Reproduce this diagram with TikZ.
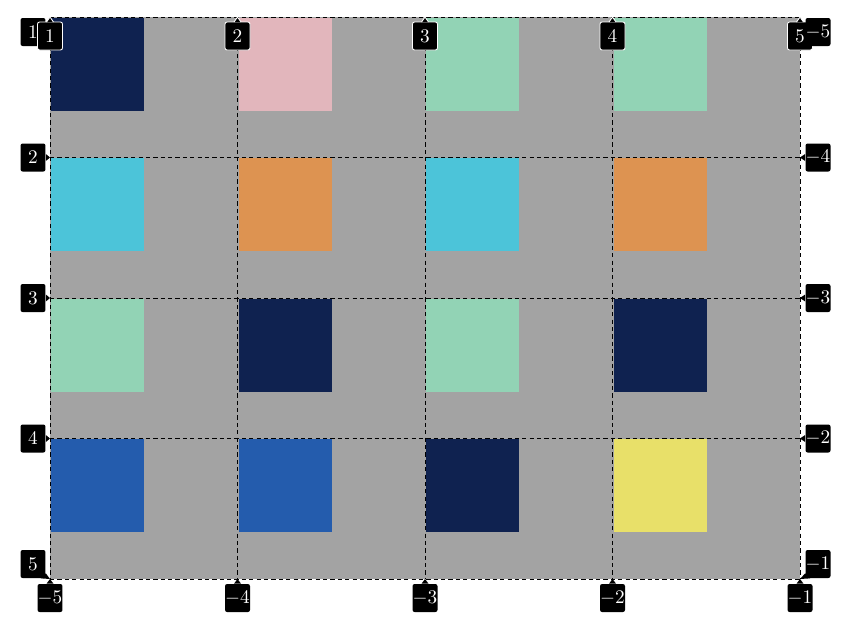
\documentclass[tikz,border=0pt]{standalone}
\usetikzlibrary{calc}
\definecolor{GridGrey}{HTML}{A3A3A3}
\definecolor{MyNavy}{HTML}{0F2250}
\definecolor{MyPink}{HTML}{E2B6BC}
\definecolor{MyMint}{HTML}{92D3B5}
\definecolor{MyCyan}{HTML}{4CC4D9}
\definecolor{MyOrange}{HTML}{DD9351}
\definecolor{MyBlue}{HTML}{245CAD}
\definecolor{MyYellow}{HTML}{E8E069}
\begin{document}
\begin{tikzpicture}[x=0.02cm, y=-0.02cm,
	gridline/.style={line width=0.55pt, dash pattern=on 2.4pt off 1.8pt},
	numtag/.style={fill=black, text=white, rounded corners=1.2pt, minimum width=0.5cm, minimum height=0.56cm, inner sep=0pt, font=\fontsize{10.5}{12}\selectfont},
	toptag/.style={numtag, draw=white, line width=0.5pt},
	tagtip/.style={fill=black}]
	\useasboundingbox (0,0) rectangle (865,616);
	\fill[GridGrey] (50,17) rectangle (800,579);
	
	% coloured items
	\foreach \c/\r/\col in {1/1/MyNavy, 2/1/MyPink, 3/1/MyMint, 4/1/MyMint,
		1/2/MyCyan, 2/2/MyOrange, 3/2/MyCyan, 4/2/MyOrange,
		1/3/MyMint, 2/3/MyNavy, 3/3/MyMint, 4/3/MyNavy,
		1/4/MyBlue, 2/4/MyBlue, 3/4/MyNavy, 4/4/MyYellow}{
		\fill[\col] ({51+187.5*(\c-1)}, {17.5+140.5*(\r-1)}) rectangle ++(93,93);}
	
	% grid lines
	\foreach \i in {1,...,5}{
		\pgfmathsetmacro\gx{50+187.5*(\i-1)}
		\pgfmathsetmacro\gy{17+140.5*(\i-1)}
		\coordinate (col-\i) at (\gx,17);
		\coordinate (colb-\i) at (\gx,579);
		\coordinate (row-\i) at (50,\gy);
		\coordinate (rowr-\i) at (800,\gy);
		\draw[gridline] (col-\i) -- (colb-\i);
		\draw[gridline] (row-\i) -- (rowr-\i);}
	
	% left tags
	\foreach \n/\ty in {2/157.5, 3/298, 4/438.5}{
		\node[numtag] (left-\n) at (33,\ty) {$\n$};
		\fill[tagtip] ([yshift=0.07cm]left-\n.east) -- (row-\n) -- ([yshift=-0.07cm]left-\n.east);}
	\node[numtag] (left-1) at (33,32) {$1$};
	\node[numtag] (left-5) at (33,564) {$5$};
	\fill[tagtip] ([xshift=-0.1cm]left-5.south east) -- (row-5) -- ([yshift=0.1cm]left-5.south east);
	
	% top tags
	\foreach \n in {1,...,5}{
		\pgfmathsetmacro\gx{50+187.5*(\n-1)}
		\node[toptag] (top-\n) at (\gx,36) {$\n$};
		\filldraw[fill=black, draw=white, line width=0.5pt] ([xshift=-0.07cm,yshift=-0.01cm]top-\n.north) -- (col-\n) -- ([xshift=0.07cm,yshift=-0.01cm]top-\n.north);}
	
	% right tags
	\foreach \n/\ty in {2/157.5, 3/298, 4/438.5}{
		\pgfmathtruncatemacro\m{\n-6}
		\node[numtag] (right-\n) at (818,\ty) {$\m$};
		\fill[tagtip] ([yshift=0.07cm]right-\n.west) -- (rowr-\n) -- ([yshift=-0.07cm]right-\n.west);}
	\node[numtag] (right-1) at (818,32) {$-5$};
	\node[numtag] (right-5) at (818,564) {$-1$};
	\fill[tagtip] ([xshift=0.1cm]right-5.south west) -- (rowr-5) -- ([yshift=0.1cm]right-5.south west);
	
	% bottom tags
	\foreach \n in {1,...,5}{
		\pgfmathsetmacro\gx{50+187.5*(\n-1)}
		\pgfmathtruncatemacro\m{\n-6}
		\node[numtag] (bottom-\n) at (\gx,598) {$\m$};
		\fill[tagtip] ([xshift=-0.07cm]bottom-\n.north) -- (colb-\n) -- ([xshift=0.07cm]bottom-\n.north);}
\end{tikzpicture}
\end{document}
